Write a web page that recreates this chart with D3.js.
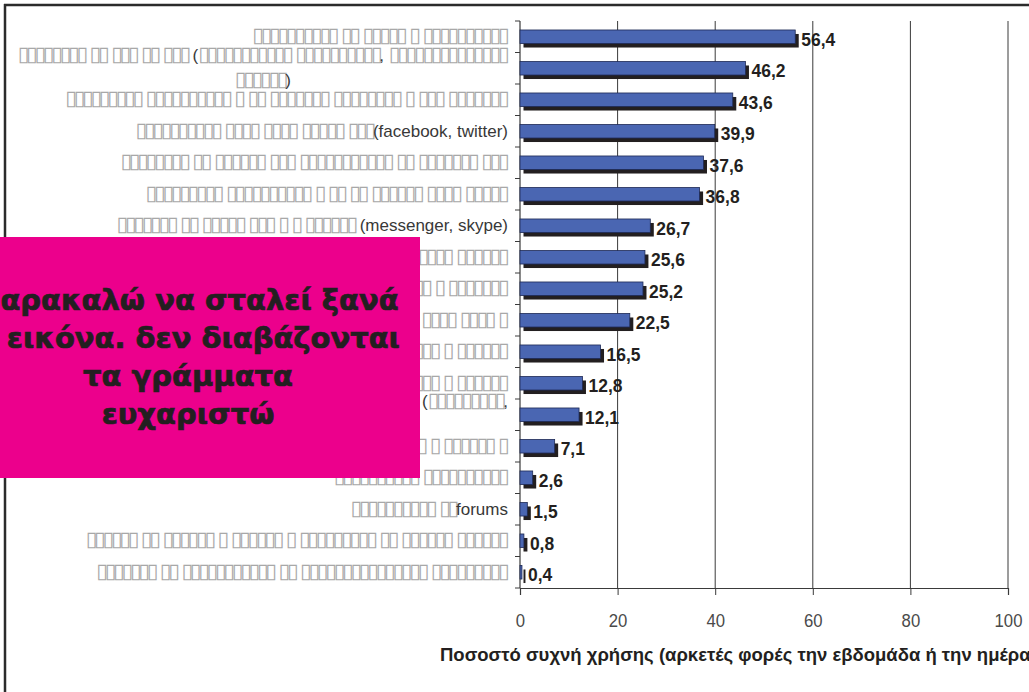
<!DOCTYPE html>
<html>
<head>
<meta charset="utf-8">
<script src="https://cdn.jsdelivr.net/npm/d3@7"></script>
<style>
  html, body { margin: 0; padding: 0; background: #fff; }
  svg { display: block; }
</style>
</head>
<body>
<svg id="chart" width="1029" height="692"></svg>
<script>
// Category labels (top to bottom); "\n" marks a wrapped second line.
const categories = [
  "▯▯▯▯▯▯▯▯▯▯ ▯▯ ▯▯▯▯▯ ▯ ▯▯▯▯▯▯▯▯▯▯",
  "▯▯▯▯▯▯▯▯ ▯▯ ▯▯▯ ▯▯ ▯▯▯ (▯▯▯▯▯▯▯▯▯▯▯ ▯▯▯▯▯▯▯▯▯▯, ▯▯▯▯▯▯▯▯▯▯▯▯▯▯\n▯▯▯▯▯▯)",
  "▯▯▯▯▯▯▯▯▯ ▯▯▯▯▯▯▯▯▯▯ ▯ ▯▯ ▯▯▯▯▯▯▯ ▯▯▯▯▯▯▯▯ ▯ ▯▯▯ ▯▯▯▯▯▯▯",
  "▯▯▯▯▯▯▯▯▯▯ ▯▯▯▯ ▯▯▯▯ ▯▯▯▯▯ ▯▯▯(facebook, twitter)",
  "▯▯▯▯▯▯▯▯ ▯▯ ▯▯▯▯▯▯ ▯▯▯ ▯▯▯▯▯▯▯▯▯▯▯ ▯▯ ▯▯▯▯▯▯▯ ▯▯▯",
  "▯▯▯▯▯▯▯▯▯ ▯▯▯▯▯▯▯▯▯▯ ▯ ▯▯ ▯▯ ▯▯▯▯▯▯ ▯▯▯▯ ▯▯▯▯▯",
  "▯▯▯▯▯▯▯ ▯▯ ▯▯▯▯▯ ▯▯▯ ▯ ▯ ▯▯▯▯▯▯ (messenger, skype)",
  "▯▯▯▯▯▯▯ ▯▯ ▯▯▯▯▯ ▯▯▯▯▯▯ ▯▯▯▯▯▯",
  "▯▯▯▯▯▯▯▯ ▯▯▯ ▯▯▯▯▯▯ ▯▯ ▯ ▯▯▯▯▯▯▯",
  "▯▯▯▯▯▯▯▯▯ ▯▯▯▯ ▯▯▯▯▯ ▯▯▯▯ ▯▯▯▯ ▯",
  "▯▯▯▯▯▯▯▯ ▯▯ ▯▯▯▯▯▯ ▯▯▯ ▯ ▯▯▯▯▯▯",
  "▯▯▯▯▯▯▯ ▯▯▯▯▯ ▯▯▯ ▯▯▯ ▯ ▯▯▯▯▯▯",
  "▯▯▯▯▯▯▯▯ ▯▯▯ ▯▯▯▯▯▯ ▯▯▯▯▯ ▯▯▯▯▯▯ (▯▯▯▯▯▯▯▯▯,\n▯▯▯▯▯▯▯▯ ▯▯▯▯▯▯▯)",
  "▯▯▯▯▯▯▯▯ ▯▯▯ ▯▯▯▯▯ ▯ ▯ ▯▯▯▯▯▯ ▯",
  "▯▯▯▯▯▯▯▯▯▯ ▯▯▯▯▯▯▯▯▯▯",
  "▯▯▯▯▯▯▯▯▯▯ ▯▯forums",
  "▯▯▯▯▯▯ ▯▯ ▯▯▯▯▯▯ ▯ ▯▯▯▯▯▯ ▯ ▯▯▯▯▯▯▯▯▯ ▯▯ ▯▯▯▯▯▯ ▯▯▯▯▯▯",
  "▯▯▯▯▯▯▯ ▯▯ ▯▯▯▯▯▯▯▯▯▯▯ ▯▯ ▯▯▯▯▯▯▯▯▯▯▯▯▯▯▯ ▯▯▯▯▯▯▯▯▯"
];

// Share of frequent use (%), one value per category.
const values = [56.4, 46.2, 43.6, 39.9, 37.6, 36.8, 26.7, 25.6, 25.2, 22.5,
                16.5, 12.8, 12.1, 7.1, 2.6, 1.5, 0.8, 0.4];

const xTicks = [0, 20, 40, 60, 80, 100];
const valueLabels = ["56,4", "46,2", "43,6", "39,9", "37,6", "36,8", "26,7", "25,6", "25,2",
                     "22,5", "16,5", "12,8", "12,1", "7,1", "2,6", "1,5", "0,8", "0,4"];
const axisTitle = "Ποσοστό συχνή χρήσης (αρκετές φορές την εβδομάδα ή την ημέρα";
const noteLines = ["παρακαλώ να σταλεί ξανά", "η εικόνα. δεν διαβάζονται", "τα γράμματα", "ευχαριστώ"];

const svg = d3.select("#chart");
const W = 1029, H = 692;
const plot = { left: 520, right: 1008, top: 21, bottom: 588 };
const ink = "#231f20";

svg.append("rect").attr("width", W).attr("height", H).attr("fill", "#fff");

const x = d3.scaleLinear().domain([0, 100]).range([plot.left, plot.right]);
const y = d3.scaleBand().domain(d3.range(categories.length))
  .range([plot.top, plot.bottom]).paddingInner(0.57).paddingOuter(0.285);
const band = (plot.bottom - plot.top) / categories.length;
const rowCenter = i => plot.top + band * (i + 0.5);

// Vertical gridlines
svg.append("g").selectAll("line").data(xTicks.filter(d => d > 0)).join("line")
  .attr("x1", d => x(d)).attr("x2", d => x(d))
  .attr("y1", plot.top).attr("y2", plot.bottom)
  .attr("stroke", "#3a3a3a").attr("stroke-width", 1);

// Bottom axis
const xAxis = d3.axisBottom(x).tickValues(xTicks).tickSize(7).tickPadding(18.5).tickFormat(d3.format("d"));
const gx = svg.append("g").attr("transform", `translate(0,${plot.bottom})`).call(xAxis);
gx.select(".domain").attr("stroke", "#3a3a3a").attr("stroke-width", 1.2);
gx.selectAll(".tick line").attr("stroke", "#3a3a3a");
gx.selectAll(".tick text")
  .attr("font-family", "'Liberation Sans', Arial, sans-serif")
  .attr("font-size", 19).attr("fill", "#4a4a4a")
  .attr("transform", "scale(0.88,1)");

// Left axis line with ticks between categories
const yTicks = d3.range(categories.length + 1).map(i => plot.top + band * i);
svg.append("line").attr("x1", plot.left).attr("x2", plot.left)
  .attr("y1", plot.top).attr("y2", plot.bottom)
  .attr("stroke", "#3a3a3a").attr("stroke-width", 1.2);
svg.append("g").selectAll("line").data(yTicks).join("line")
  .attr("x1", plot.left - 5).attr("x2", plot.left)
  .attr("y1", d => d).attr("y2", d => d)
  .attr("stroke", "#3a3a3a").attr("stroke-width", 1);

// Bars with offset shadow
const bars = svg.append("g");
bars.selectAll("rect.shadow").data(values).join("rect").attr("class", "shadow")
  .attr("x", x(0) + 3.5).attr("y", (d, i) => y(i) + 4)
  .attr("width", d => x(d) - x(0)).attr("height", y.bandwidth())
  .attr("fill", ink);
bars.selectAll("rect.bar").data(values).join("rect").attr("class", "bar")
  .attr("x", x(0)).attr("y", (d, i) => y(i))
  .attr("width", d => x(d) - x(0)).attr("height", y.bandwidth())
  .attr("fill", "#4a66b2").attr("stroke", "#1e2a55").attr("stroke-width", 0.8);

// Value labels
svg.append("g").selectAll("text").data(values).join("text")
  .attr("transform", (d, i) => `translate(${x(d) + 6},${y(i) + y.bandwidth() / 2 + 9}) scale(0.92,1)`)
  .attr("font-family", "'Liberation Sans', Arial, sans-serif")
  .attr("font-weight", "bold").attr("font-size", 19).attr("fill", ink)
  .text((d, i) => valueLabels[i]);

// Category labels: box glyph runs are spaced to a fixed advance
const tofuFont = "'DejaVu Sans', sans-serif";
const tofuSize = 21;
const probe = svg.append("text").attr("font-family", tofuFont).attr("font-size", tofuSize)
  .text("▯▯▯▯▯▯▯▯▯▯");
const tofuAdvance = probe.node().getComputedTextLength() / 10;
probe.remove();
const tofuSpacing = 8.4 - tofuAdvance;

const labelRight = 508;
const labels = svg.append("g");
categories.forEach((label, i) => {
  const lines = label.split("\n");
  const c = rowCenter(i);
  const offsets = lines.length === 1 ? [0] : [-13, 12];
  const nodes = lines.map((line, k) => {
    const t = labels.append("text")
      .attr("y", c + offsets[k] + 5.5)
      .attr("font-family", "'Liberation Sans', Arial, sans-serif")
      .attr("font-size", 17).attr("fill", "#383838");
    const runs = line.match(/▯+|[^▯]+/g);
    runs.forEach(r => {
      const ts = t.append("tspan").text(r);
      if (r[0] === "▯") {
        ts.attr("font-family", tofuFont).attr("font-size", tofuSize)
          .attr("fill", "#a8a8a8").style("letter-spacing", tofuSpacing + "px");
      }
    });
    return t;
  });
  const widths = nodes.map(n => n.node().getBBox().width);
  const block = d3.max(widths);
  nodes.forEach((n, k) => n.attr("x", labelRight - block + (block - widths[k]) / 2));
});

// Axis title
svg.append("text")
  .attr("x", 440).attr("y", 661)
  .attr("font-family", "'Liberation Sans', Arial, sans-serif")
  .attr("font-weight", "bold").attr("font-size", 18.5).attr("fill", ink)
  .text(axisTitle);

// Frame lines
svg.append("line").attr("x1", 4).attr("x2", W).attr("y1", 5).attr("y2", 5)
  .attr("stroke", "#2b2b2b").attr("stroke-width", 2.5);
svg.append("line").attr("x1", 5).attr("x2", 5).attr("y1", 4).attr("y2", H)
  .attr("stroke", "#2b2b2b").attr("stroke-width", 2.5);

// Pink note box
const note = svg.append("g");
note.append("rect").attr("x", 0).attr("y", 237).attr("width", 420).attr("height", 241)
  .attr("fill", "#ec008c");
note.selectAll("text").data(noteLines).join("text")
  .attr("x", 188).attr("y", (d, i) => 310 + i * 38)
  .attr("text-anchor", "middle")
  .attr("font-family", "'DejaVu Sans', sans-serif")
  .attr("font-weight", "bold").attr("font-size", 29).attr("fill", ink)
  .attr("stroke", ink).attr("stroke-width", 0.7)
  .text(d => d);
</script>
</body>
</html>
